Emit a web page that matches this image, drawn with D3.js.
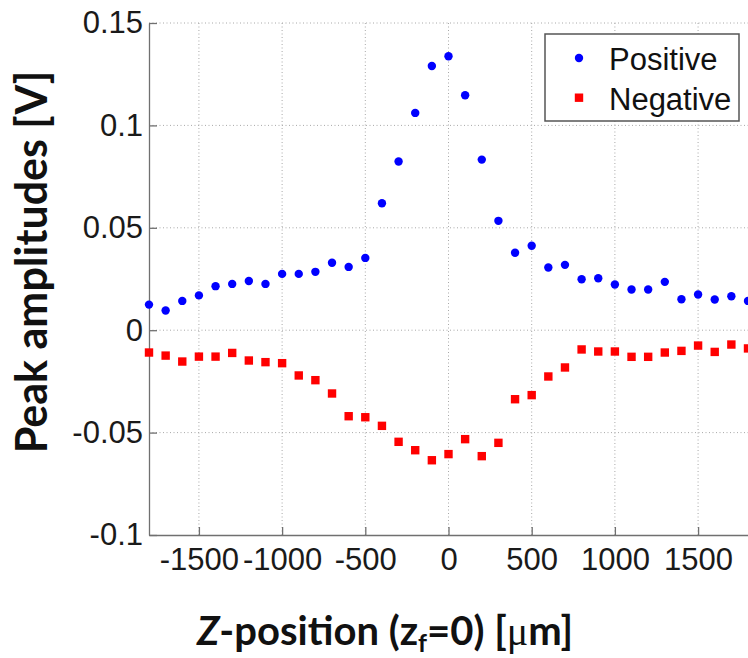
<!DOCTYPE html>
<html>
<head>
<meta charset="utf-8">
<script src="https://cdn.jsdelivr.net/npm/d3@7"></script>
<style>
body { margin: 0; background: #fff; }
svg { display: block; }
.grid line { stroke: #a8a8a8; stroke-dasharray: 1,2.5; }
.axis text { font-family: "Liberation Sans", Arial, sans-serif; font-size: 31px; fill: #1a1a1a; }
.axis path, .axis line { stroke: #707070; stroke-width: 1.3; }
.title { font-family: Lato, "Open Sans", sans-serif; font-weight: bold; fill: #111; }
</style>
</head>
<body>
<svg id="chart"></svg>
<script>
// z positions in micrometres
var zPos = [-1800, -1700, -1600, -1500, -1400, -1300, -1200, -1100, -1000, -900, -800, -700, -600, -500, -400, -300, -200, -100,
    0, 100, 200, 300, 400, 500, 600, 700, 800, 900, 1000, 1100, 1200, 1300, 1400, 1500, 1600, 1700, 1800];
var positive = [0.0125, 0.0096, 0.0143, 0.017, 0.0215, 0.0226, 0.024, 0.0226, 0.0275, 0.0275, 0.0285, 0.0329, 0.0309, 0.0353, 0.062, 0.0824, 0.1061, 0.129,
    0.1338, 0.1147, 0.0833, 0.0534, 0.0378, 0.0412, 0.0306, 0.0319, 0.0249, 0.0254, 0.0223, 0.0199, 0.0199, 0.0236, 0.0151, 0.0174, 0.015, 0.0166, 0.0143];
var negative = [-0.0109, -0.0124, -0.0153, -0.0129, -0.0129, -0.0111, -0.0148, -0.0156, -0.0161, -0.0221, -0.0244, -0.0309, -0.042, -0.0425, -0.0467, -0.0545, -0.0586, -0.0635,
    -0.0605, -0.0532, -0.0615, -0.055, -0.0337, -0.0317, -0.0226, -0.0182, -0.0094, -0.0104, -0.0104, -0.013, -0.013, -0.0109, -0.0101, -0.0075, -0.0106, -0.007, -0.0089];
var xTicks = [-1500, -1000, -500, 0, 500, 1000, 1500];
var yTicks = [-0.1, -0.05, 0, 0.05, 0.1, 0.15];
var seriesNames = ["Positive", "Negative"];

var W = 748, H = 658;
var margin = {top: 23, right: 0, bottom: 123, left: 149},
    width = W - margin.left - margin.right,
    height = H - margin.top - margin.bottom;

var svg = d3.select("#chart").attr("width", W).attr("height", H);
var g = svg.append("g").attr("transform", "translate(" + margin.left + "," + margin.top + ")");

var xScale = d3.scaleLinear().domain([-1800, 1800]).range([0, width]);
var yScale = d3.scaleLinear().domain([-0.1, 0.15]).range([height, 0]);

// dotted grid
g.append("g").attr("class", "grid")
    .selectAll("line").data(xTicks).enter().append("line")
    .attr("x1", function (d) { return xScale(d); })
    .attr("x2", function (d) { return xScale(d); })
    .attr("y1", 0).attr("y2", height);
g.append("g").attr("class", "grid")
    .selectAll("line").data(yTicks.filter(function (d) { return d > -0.1; })).enter().append("line")
    .attr("y1", function (d) { return yScale(d); })
    .attr("y2", function (d) { return yScale(d); })
    .attr("x1", 0).attr("x2", width);

// axes, ticks pointing inwards like matlab, plain hyphen for minus
g.append("g").attr("class", "axis")
    .attr("transform", "translate(0," + height + ")")
    .call(d3.axisBottom(xScale).tickValues(xTicks).tickFormat(function (d) { return String(d); })
        .tickSizeInner(-8).tickSizeOuter(0).tickPadding(13));
g.append("g").attr("class", "axis")
    .call(d3.axisLeft(yScale).tickValues(yTicks).tickFormat(function (d) { return String(+d.toFixed(2)); })
        .tickSizeInner(-8).tickSizeOuter(0).tickPadding(6));
g.selectAll(".axis .tick text").attr("fill", "#1a1a1a");
g.selectAll(".axis .domain").attr("stroke", "#707070");

// markers
g.selectAll(".dot")
    .data(positive).enter().append("circle")
    .attr("class", "dot")
    .attr("cx", function (d, i) { return xScale(zPos[i]); })
    .attr("cy", function (d) { return yScale(d); })
    .attr("r", 4.2)
    .attr("fill", "#0000ff");

g.selectAll(".sq")
    .data(negative).enter().append("rect")
    .attr("class", "sq")
    .attr("x", function (d, i) { return xScale(zPos[i]) - 4.2; })
    .attr("y", function (d) { return yScale(d) - 4.2; })
    .attr("width", 8.4).attr("height", 8.4)
    .attr("fill", "#ff0000");

// legend
var legend = svg.append("g").attr("transform", "translate(545,34)");
legend.append("rect")
    .attr("width", 194).attr("height", 87)
    .attr("fill", "#fff").attr("stroke", "#555").attr("stroke-width", 1.5);
legend.append("circle").attr("cx", 34).attr("cy", 24).attr("r", 4.2).attr("fill", "#0000ff");
legend.append("rect").attr("x", 29.8).attr("y", 59.5).attr("width", 8.4).attr("height", 8.4).attr("fill", "#ff0000");
legend.selectAll("text").data(seriesNames).enter().append("text")
    .attr("x", 64)
    .attr("y", function (d, i) { return 36 + i * 40; })
    .style("font-family", "'Liberation Sans', Arial, sans-serif")
    .style("font-size", "31px")
    .attr("fill", "#111")
    .text(function (d) { return d; });

// axis titles
svg.append("text").attr("class", "title")
    .attr("transform", "translate(47,262) rotate(-90)")
    .attr("text-anchor", "middle")
    .style("font-size", "43px")
    .text("Peak amplitudes [V]");

var xt = svg.append("text").attr("class", "title")
    .attr("x", 385).attr("y", 645)
    .attr("text-anchor", "middle")
    .style("font-size", "40px");
xt.append("tspan").style("font-style", "italic").text("Z");
xt.append("tspan").text("-position (z");
xt.append("tspan").attr("dy", 7).style("font-size", "25px").text("f");
xt.append("tspan").attr("dy", -7).text("=0) [");
xt.append("tspan").style("font-family", "'Liberation Serif', serif").style("font-weight", "normal").text("\u03bc");
xt.append("tspan").text("m]");
</script>
</body>
</html>
